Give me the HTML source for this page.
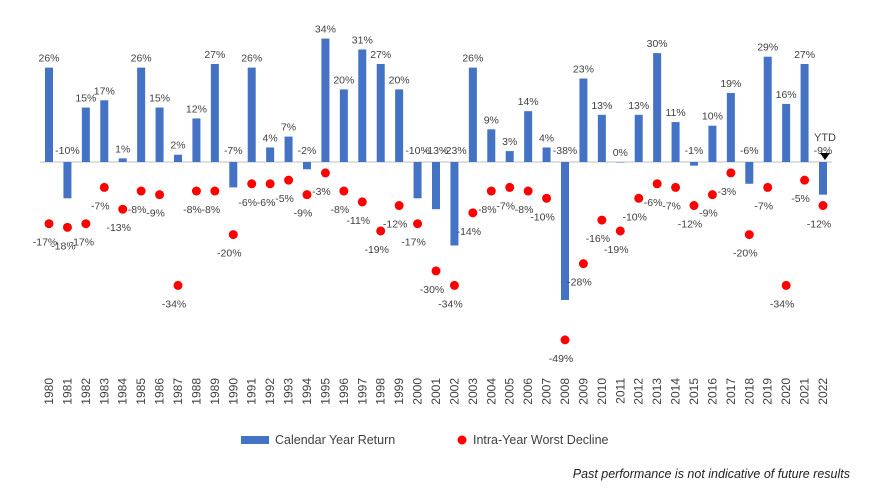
<!DOCTYPE html>
<html><head><meta charset="utf-8"><style>
body{margin:0;background:#fff;width:884px;height:497px;overflow:hidden;font-family:"Liberation Sans",sans-serif}
svg text{font-family:"Liberation Sans",sans-serif;fill:#404040}
</style></head><body>
<svg id="chart" width="884" height="497" xmlns="http://www.w3.org/2000/svg">
<g id="plot"></g>
<g>
<rect x="241" y="436" width="28" height="8" fill="#4472C4"/>
<text x="275" y="444" font-size="12.5">Calendar Year Return</text>
<circle cx="462" cy="440" r="4.5" fill="#FF0000"/>
<text x="473" y="444" font-size="12.5">Intra-Year Worst Decline</text>
</g>
<text x="850" y="478" font-size="12.5" font-style="italic" text-anchor="end" style="fill:#222">Past performance is not indicative of future results</text>
</svg>
<script>
const years=[1980,1981,1982,1983,1984,1985,1986,1987,1988,1989,1990,1991,1992,1993,1994,1995,1996,1997,1998,1999,2000,2001,2002,2003,2004,2005,2006,2007,2008,2009,2010,2011,2012,2013,2014,2015,2016,2017,2018,2019,2020,2021,2022];
const returns=[26,-10,15,17,1,26,15,2,12,27,-7,26,4,7,-2,34,20,31,27,20,-10,-13,-23,26,9,3,14,4,-38,23,13,0,13,30,11,-1,10,19,-6,29,16,27,-9];
const declines=[-17,-18,-17,-7,-13,-8,-9,-34,-8,-8,-20,-6,-6,-5,-9,-3,-8,-11,-19,-12,-17,-30,-34,-14,-8,-7,-8,-10,-49,-28,-16,-19,-10,-6,-7,-12,-9,-3,-20,-7,-34,-5,-12];
const NS="http://www.w3.org/2000/svg";
const g=document.getElementById('plot');
const x0=49,step=(823-49)/42,zeroY=162,k=3.63;
const xs=i=>x0+i*step, ys=v=>zeroY-v*k;
function mk(t,a){const e=document.createElementNS(NS,t);for(const n in a)e.setAttribute(n,a[n]);g.appendChild(e);return e;}
const zl=mk('line',{x1:40,x2:832,y1:zeroY,y2:zeroY,stroke:'#bfbfbf','stroke-width':1});


years.forEach((y,i)=>{
  const x=xs(i),v=returns[i];
  const top=Math.min(ys(v),zeroY),h=Math.abs(ys(v)-zeroY);
  const b=mk('rect',{x:x-4,y:top,width:8,height:Math.max(h,0.5),fill:'#4472C4'});
  
  
  const lt=mk('text',{x:x,y:(v>=0?ys(v)-6:zeroY-8),'font-size':10.5,'text-anchor':'middle'});
  lt.textContent=v+'%';
  
  
  const d=declines[i];
  const c=mk('circle',{cx:x,cy:ys(d),r:4.5,fill:'#FF0000'});
  
  
  const dt=mk('text',{x:x-4,y:ys(d)+22,'font-size':10.5,'text-anchor':'middle'});
  dt.textContent=d+'%';
  
  
  const yt=mk('text',{x:0,y:0,'font-size':12,'text-anchor':'end',transform:'translate('+(x+4)+',378) rotate(-90)'});
  yt.textContent=y;
  
  
});
const i=years.length-1,xl=xs(i);
const ytd=mk('text',{x:xl+2,y:141,'font-size':11,'text-anchor':'middle'});
ytd.textContent='YTD';


const ar=mk('path',{d:'M'+(xl-3)+' 153 L'+(xl+7)+' 153 L'+(xl+2)+' 160 Z',fill:'#000'});


</script>
</body></html>
